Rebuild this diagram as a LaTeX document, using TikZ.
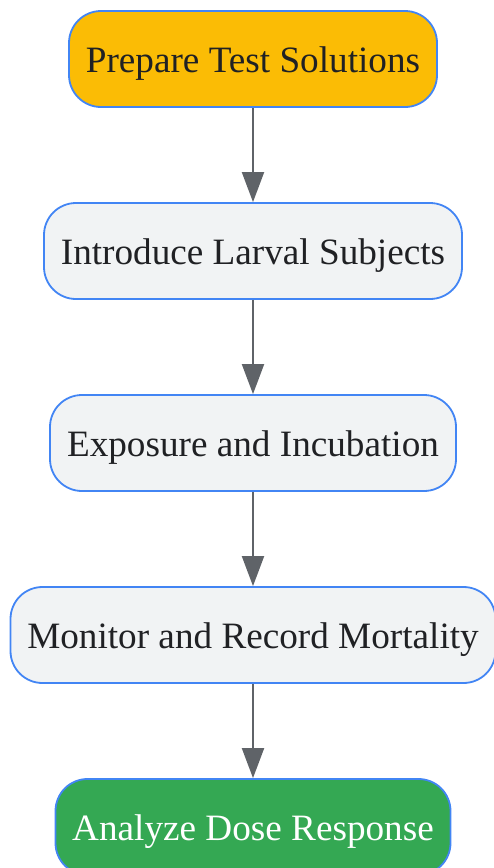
\documentclass[tikz,border=0pt]{standalone}
\usepackage{fontspec}
\setmainfont{Liberation Serif}
\usepackage{xcolor}
\usepackage{tikz}
\usetikzlibrary{arrows.meta}
\usetikzlibrary{positioning}
\definecolor{stepblue}{HTML}{4285F4}
\definecolor{stepgray}{HTML}{F1F3F4}
\definecolor{steporange}{HTML}{FBBC05}
\definecolor{stepgreen}{HTML}{34A853}
\definecolor{steptext}{HTML}{202124}
\definecolor{arrowgray}{HTML}{5F6368}

\begin{document}
\begin{tikzpicture}[node distance=94.2pt,
                    stepbox/.style={draw=stepblue, line width=1.8pt, fill=stepgray,
                                    rounded corners=32pt, minimum height=96pt,
                                    text=steptext, inner sep=0pt,
                                    text height=36pt, text depth=10pt,
                                    font=\fontsize{37.2}{44}\selectfont},
                    flow/.style={draw=arrowgray, line width=2pt,
                                 -{Triangle[length=30pt, width=22pt]}}]
        \useasboundingbox (0,0) rectangle (493pt,-868pt);
        \node[stepbox, fill=steporange, minimum width=368pt] (prepare) at (253pt,-59pt) {Prepare Test Solutions};
        \node[stepbox, minimum width=418pt, below=of prepare] (introduce) {Introduce Larval Subjects};
        \node[stepbox, minimum width=406pt, below=of introduce] (exposure) {Exposure and Incubation};
        \node[stepbox, minimum width=485pt, below=of exposure] (monitor) {Monitor and Record Mortality};
        \node[stepbox, fill=stepgreen, text=white, minimum width=395pt, below=of monitor] (analyze) {Analyze Dose Response};
        \draw[flow] (prepare) -- (introduce);
        \draw[flow] (introduce) -- (exposure);
        \draw[flow] (exposure) -- (monitor);
        \draw[flow] (monitor) -- (analyze);
\end{tikzpicture}
\end{document}
